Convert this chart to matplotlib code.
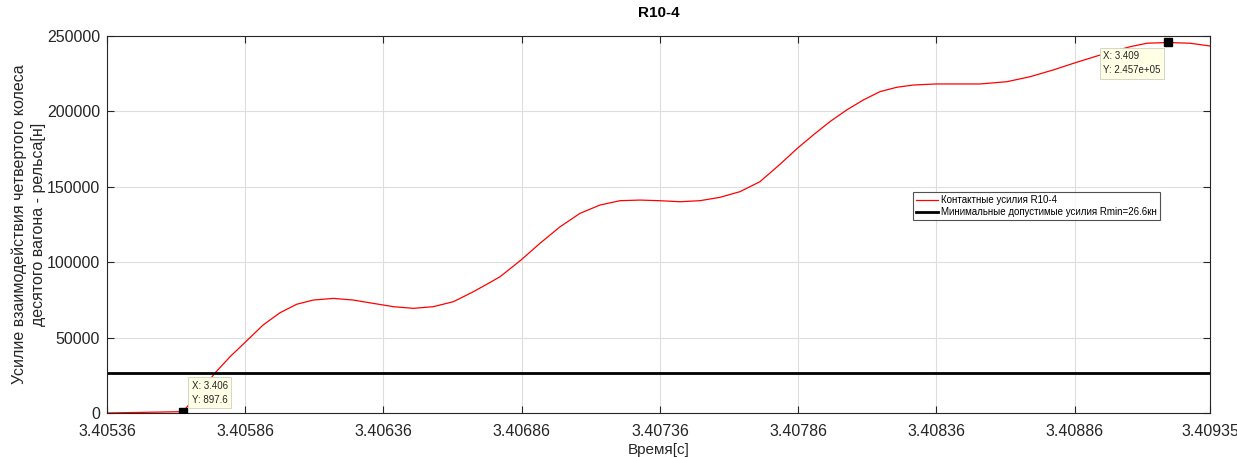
import matplotlib
matplotlib.use("Agg")
import matplotlib.pyplot as plt

plt.rcParams['font.family'] = ['Liberation Sans', 'DejaVu Sans']

time_s = [3.405360, 3.405634, 3.405689, 3.405751, 3.405805, 3.405862, 3.405925,
          3.405986, 3.406046, 3.406106, 3.406179, 3.406251, 3.406323, 3.406396,
          3.406468, 3.406540, 3.406613, 3.406685, 3.406745, 3.406782, 3.406858,
          3.406926, 3.406999, 3.407071, 3.407143, 3.407216, 3.407288, 3.407358,
          3.407433, 3.407505, 3.407577, 3.407650, 3.407722, 3.407795, 3.407857,
          3.407915, 3.407975, 3.408036, 3.408096, 3.408156, 3.408217, 3.408277,
          3.408358, 3.408434, 3.408518, 3.408615, 3.408699, 3.408783, 3.408856,
          3.408940, 3.409061, 3.409121, 3.409199, 3.409278, 3.409350]
force_n = [0, 897.6, 12000, 26600, 37300, 47300, 58400,
           66500, 72100, 74900, 76000, 74900, 72700, 70500,
           69400, 70500, 73800, 80400, 86500, 90400, 101500,
           112500, 123500, 132400, 137900, 140800, 141200, 140800,
           140100, 140800, 143000, 146800, 153400, 165000, 175500,
           184400, 193200, 201000, 207600, 213100, 216000, 217500,
           218200, 218200, 218200, 219700, 223000, 227500, 231900,
           236700, 242900, 245200, 245700, 245200, 243400]

r_min = 26600
tip_x = [3.405634, 3.409199]
tip_y = [897.6, 245700]
tip_text = ["X: 3.406\nY: 897.6", "X: 3.409\nY: 2.457e+05"]

x_ticks = [3.40536, 3.40586, 3.40636, 3.40686, 3.40736, 3.40786, 3.40836, 3.40886, 3.40935]
x_labels = ["3.40536", "3.40586", "3.40636", "3.40686", "3.40736", "3.40786", "3.40836", "3.40886", "3.40935"]
y_ticks = [0, 50000, 100000, 150000, 200000, 250000]

label_series = "Контактные усилия R10-4"
label_min = "Минимальные допустимые усилия Rmin=26.6кн"

txt = '#262626'
fig = plt.figure(figsize=(12.37, 4.57), dpi=100)
ax = fig.add_axes([0.0865, 0.0963, 0.8917, 0.8249])

ax.plot(time_s, force_n, color='red', lw=0.9, label=label_series)
ax.axhline(r_min, color='black', lw=2, label=label_min)
ax.plot(tip_x, tip_y, ls='none', marker='s', ms=6, color='black', zorder=5)

ax.set_xlim(x_ticks[0], x_ticks[-1])
ax.set_ylim(0, 250000)
ax.set_xticks(x_ticks)
ax.set_xticklabels(x_labels)
ax.set_yticks(y_ticks)
ax.set_yticklabels([str(v) for v in y_ticks])
ax.tick_params(direction='in', top=True, right=True, labelsize=11.5, colors=txt,
               length=5, width=0.8)
ax.tick_params(axis='x', pad=8)
ax.tick_params(axis='y', pad=5)
for s in ax.spines.values():
    s.set_color('#262626')
    s.set_linewidth(0.8)
ax.grid(True, color='#dedede', lw=0.8)
ax.set_axisbelow(True)

ax.set_title("R10-4", fontsize=11, fontweight='bold', color='black', pad=14)
ax.set_xlabel("Время[c]", fontsize=11, color=txt, labelpad=3)
ax.set_ylabel("Усилие взаимодействия четвертого колеса\nдесятого вагона - рельса[н]",
              fontsize=11.5, color=txt, linespacing=1.35, va='center', ha='center')
ax.yaxis.set_label_coords(-0.0707, 0.5)

bb = dict(boxstyle='square,pad=0.35', fc='#ffffe6', ec='#d0d0c0', lw=0.6)
ax.annotate(tip_text[0], xy=(tip_x[0], tip_y[0]), xytext=(9, 31), textcoords='offset pixels',
            ha='left', va='top', fontsize=7, color=txt, bbox=bb, linespacing=1.5, zorder=6)
ax.annotate(tip_text[1], xy=(tip_x[1], tip_y[1]), xytext=(-8, -9), textcoords='offset pixels',
            ha='right', va='top', multialignment='left', fontsize=7, color=txt, bbox=bb,
            linespacing=1.5, zorder=6)

leg = ax.legend(loc='upper left', bbox_to_anchor=(0.7307, 0.586), fontsize=7,
                frameon=True, fancybox=False, handlelength=2.3, borderpad=0.3,
                labelspacing=0.2, handletextpad=0.3, borderaxespad=0)
leg.get_frame().set_edgecolor('#262626')
leg.get_frame().set_linewidth(0.8)

fig.savefig('out.png', dpi=100)
